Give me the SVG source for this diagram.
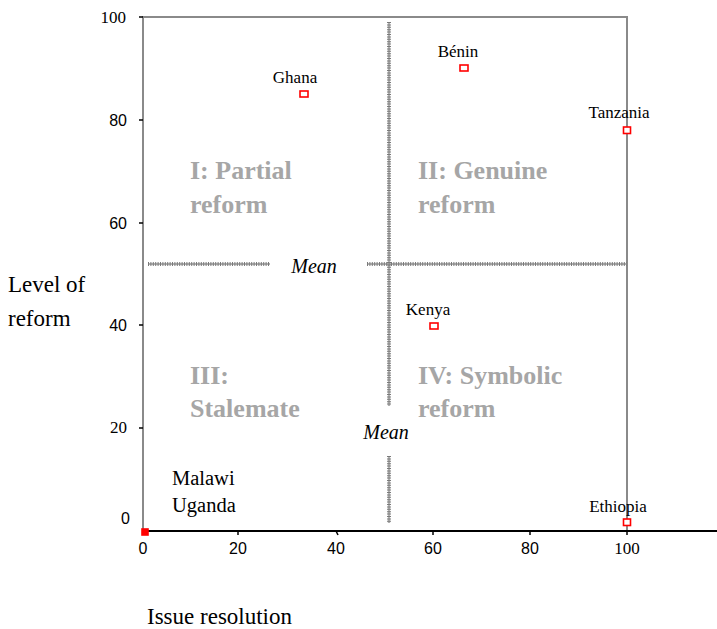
<svg xmlns="http://www.w3.org/2000/svg" width="717" height="629" viewBox="0 0 717 629">
  <style>
    .frame { stroke: #8a8a8a; stroke-width: 2; fill: none; }
    .axis { stroke: #000; stroke-width: 2; fill: none; }
    .tick { stroke: #000; stroke-width: 1.5; }
    .tl { font-family: "Liberation Sans", Arial, sans-serif; font-size: 16px; fill: #000; }
    .tls { font-family: "Liberation Serif", "Times New Roman", serif; font-size: 17px; fill: #000; }
    .quad { font-family: "Liberation Serif", "Times New Roman", serif; font-size: 26px; font-weight: bold; fill: #a6a6a6; }
    .country { font-family: "Liberation Serif", "Times New Roman", serif; font-size: 17px; fill: #000; text-anchor: middle; }
    .big { font-family: "Liberation Serif", "Times New Roman", serif; font-size: 20.5px; fill: #000; }
    .title { font-family: "Liberation Serif", "Times New Roman", serif; font-size: 23px; fill: #000; }
    .mean { font-family: "Liberation Serif", "Times New Roman", serif; font-size: 20px; font-style: italic; fill: #000; }
    .meancore { stroke: #b0b0b0; stroke-width: 2.2; fill: none; }
    .meanedge { stroke: #7a7a7a; stroke-width: 4; stroke-dasharray: 1 1.4; fill: none; }
    .pt { fill: #fff; stroke: #f00; stroke-width: 1.6; }
    .pt-solid { fill: #f00; stroke: #f00; stroke-width: 1.6; }
  </style>

  <rect width="717" height="629" fill="#fff"/>

  <!-- plot frame and axes -->
  <g id="frame">
    <polyline class="frame" points="143,531 143,17 627,17 627,531"/>
    <line class="axis" x1="142" y1="531" x2="717" y2="531"/>
    <!-- y ticks -->
    <line class="tick" x1="139" y1="17" x2="143" y2="17"/>
    <line class="tick" x1="139" y1="120" x2="143" y2="120"/>
    <line class="tick" x1="139" y1="223" x2="143" y2="223"/>
    <line class="tick" x1="139" y1="325" x2="143" y2="325"/>
    <line class="tick" x1="139" y1="428" x2="143" y2="428"/>
    <!-- x ticks -->
    <line class="tick" x1="238" y1="531" x2="238" y2="535"/>
    <line class="tick" x1="336" y1="531" x2="338" y2="535"/>
    <line class="tick" x1="433" y1="531" x2="433" y2="535"/>
    <line class="tick" x1="530" y1="531" x2="530" y2="535"/>
    <line class="tick" x1="627" y1="531" x2="627" y2="535"/>
  </g>

  <!-- tick labels -->
  <g id="y-labels">
    <text class="tls" x="126" y="23" text-anchor="end">100</text>
    <text class="tl" x="127" y="126" text-anchor="end">80</text>
    <text class="tl" x="127" y="229" text-anchor="end">60</text>
    <text class="tl" x="127" y="331" text-anchor="end">40</text>
    <text class="tls" x="127" y="433" text-anchor="end">20</text>
    <text class="tl" x="130" y="524" text-anchor="end">0</text>
  </g>
  <g id="x-labels">
    <text class="tl" x="143" y="554" text-anchor="middle">0</text>
    <text class="tl" x="238" y="554" text-anchor="middle">20</text>
    <text class="tl" x="336" y="554" text-anchor="middle">40</text>
    <text class="tl" x="433" y="554" text-anchor="middle">60</text>
    <text class="tl" x="530" y="554" text-anchor="middle">80</text>
    <text class="tls" x="627" y="554" text-anchor="middle">100</text>
  </g>

  <!-- mean lines -->
  <g id="mean-lines">
    <path class="meancore" d="M148,264 H270 M367,264 H627 M389,22 V406 M389,456 V523"/>
    <path class="meanedge" d="M148,264 H270 M367,264 H627 M389,22 V406 M389,456 V523"/>
  </g>
  <g id="mean-labels">
    <text class="mean" x="314" y="273" text-anchor="middle">Mean</text>
    <text class="mean" x="386" y="439" text-anchor="middle">Mean</text>
  </g>

  <!-- quadrant captions -->
  <g id="quadrant-1">
    <text class="quad" x="190" y="179">I: Partial</text>
    <text class="quad" x="190" y="213">reform</text>
  </g>
  <g id="quadrant-2">
    <text class="quad" x="418" y="179">II: Genuine</text>
    <text class="quad" x="418" y="213">reform</text>
  </g>
  <g id="quadrant-3">
    <text class="quad" x="190" y="384">III:</text>
    <text class="quad" x="190" y="417">Stalemate</text>
  </g>
  <g id="quadrant-4">
    <text class="quad" x="418" y="384">IV: Symbolic</text>
    <text class="quad" x="418" y="417">reform</text>
  </g>

  <!-- countries -->
  <g id="ghana">
    <rect class="pt" x="300" y="91" width="8" height="6"/>
    <text class="country" x="295" y="83">Ghana</text>
  </g>
  <g id="benin">
    <rect class="pt" x="460" y="65" width="8" height="6"/>
    <text class="country" x="458" y="57">Bénin</text>
  </g>
  <g id="tanzania">
    <rect class="pt" x="623.5" y="127" width="7" height="6.5"/>
    <text class="country" x="619" y="118">Tanzania</text>
  </g>
  <g id="kenya">
    <rect class="pt" x="430" y="323" width="8" height="6"/>
    <text class="country" x="428" y="315">Kenya</text>
  </g>
  <g id="ethiopia">
    <rect class="pt" x="623.5" y="519" width="7" height="6.5"/>
    <text class="country" x="618" y="512">Ethiopia</text>
  </g>
  <g id="malawi-uganda">
    <rect class="pt-solid" x="142" y="529" width="6" height="6"/>
    <text class="big" x="172" y="485">Malawi</text>
    <text class="big" x="172" y="512">Uganda</text>
  </g>

  <!-- axis titles -->
  <g id="axis-titles">
    <text class="title" x="8" y="292">Level of</text>
    <text class="title" x="8" y="326">reform</text>
    <text class="title" x="147" y="624">Issue resolution</text>
  </g>
</svg>
